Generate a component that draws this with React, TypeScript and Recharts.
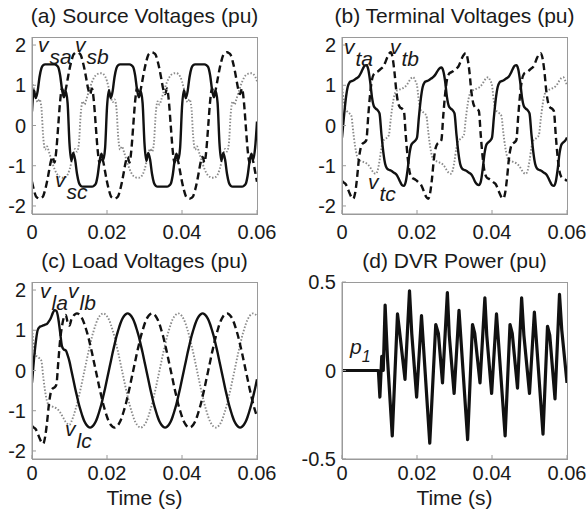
import React from "react";
import { LineChart, Line, XAxis, YAxis } from "recharts";

const FONT = "'Liberation Sans', Arial, Helvetica, sans-serif";
const INK = "#1a1a1a";
const BOX = "#9a9a9a";
const GRAY = "#8a8a8a";

// time axis in ms, 0.5 ms steps (labels are shown in seconds)
const TIME_MS = [
  0, 0.5, 1, 1.5, 2, 2.5, 3, 3.5, 4, 4.5, 5, 5.5, 6, 6.5, 7, 7.5, 8, 8.5, 9, 9.5,
  10, 10.5, 11, 11.5, 12, 12.5, 13, 13.5, 14, 14.5, 15, 15.5, 16, 16.5, 17, 17.5, 18, 18.5, 19, 19.5,
  20, 20.5, 21, 21.5, 22, 22.5, 23, 23.5, 24, 24.5, 25, 25.5, 26, 26.5, 27, 27.5, 28, 28.5, 29, 29.5,
  30, 30.5, 31, 31.5, 32, 32.5, 33, 33.5, 34, 34.5, 35, 35.5, 36, 36.5, 37, 37.5, 38, 38.5, 39, 39.5,
  40, 40.5, 41, 41.5, 42, 42.5, 43, 43.5, 44, 44.5, 45, 45.5, 46, 46.5, 47, 47.5, 48, 48.5, 49, 49.5,
  50, 50.5, 51, 51.5, 52, 52.5, 53, 53.5, 54, 54.5, 55, 55.5, 56, 56.5, 57, 57.5, 58, 58.5, 59, 59.5,
  60,
];

const X_TICKS = [0, 20, 40, 60];
const V_TICKS = [-2, -1, 0, 1, 2];
const P_TICKS = [-0.5, 0, 0.5];

// (a) source voltages
const SRC_A = [
  0.35, 0.88, 0.68, 0.85, 1.2, 1.42, 1.5, 1.52, 1.52, 1.52, 1.52, 1.52, 1.52, 1.5, 1.45, 1.25, 0.9, 0.7, 0.85, 0.55,
  -0.45, -0.88, -0.68, -0.85, -1.2, -1.42, -1.5, -1.52, -1.52, -1.52, -1.52, -1.52, -1.52, -1.5, -1.45, -1.25, -0.9, -0.7, -0.85, -0.55,
  0.45, 0.88, 0.68, 0.85, 1.2, 1.42, 1.5, 1.52, 1.52, 1.52, 1.52, 1.52, 1.52, 1.5, 1.45, 1.25, 0.9, 0.7, 0.85, 0.55,
  -0.45, -0.88, -0.68, -0.85, -1.2, -1.42, -1.5, -1.52, -1.52, -1.52, -1.52, -1.52, -1.52, -1.5, -1.45, -1.25, -0.9, -0.7, -0.85, -0.55,
  0.45, 0.88, 0.68, 0.85, 1.2, 1.42, 1.5, 1.52, 1.52, 1.52, 1.52, 1.52, 1.52, 1.5, 1.45, 1.25, 0.9, 0.7, 0.85, 0.55,
  -0.45, -0.88, -0.68, -0.85, -1.2, -1.42, -1.5, -1.52, -1.52, -1.52, -1.52, -1.52, -1.52, -1.5, -1.45, -1.25, -0.9, -0.7, -0.85, -0.55,
  0.1,
];
const SRC_B = [
  -1.4, -1.6, -1.75, -1.8, -1.82, -1.8, -1.75, -1.6, -1.4, -1.15, -0.9, -0.78, -0.92, -0.6, 0.0, 0.6, 0.92, 0.78, 0.9, 1.15,
  1.4, 1.6, 1.75, 1.8, 1.82, 1.8, 1.75, 1.6, 1.4, 1.15, 0.9, 0.78, 0.92, 0.6, 0.0, -0.6, -0.92, -0.78, -0.9, -1.15,
  -1.4, -1.6, -1.75, -1.8, -1.82, -1.8, -1.75, -1.6, -1.4, -1.15, -0.9, -0.78, -0.92, -0.6, 0.0, 0.6, 0.92, 0.78, 0.9, 1.15,
  1.4, 1.6, 1.75, 1.8, 1.82, 1.8, 1.75, 1.6, 1.4, 1.15, 0.9, 0.78, 0.92, 0.6, 0.0, -0.6, -0.92, -0.78, -0.9, -1.15,
  -1.4, -1.6, -1.75, -1.8, -1.82, -1.8, -1.75, -1.6, -1.4, -1.15, -0.9, -0.78, -0.92, -0.6, 0.0, 0.6, 0.92, 0.78, 0.9, 1.15,
  1.4, 1.6, 1.75, 1.8, 1.82, 1.8, 1.75, 1.6, 1.4, 1.15, 0.9, 0.78, 0.92, 0.6, 0.0, -0.6, -0.92, -0.78, -0.9, -1.15,
  -1.4,
];
const SRC_C = [
  1.1, 0.92, 0.72, 0.58, 0.65, 0.45, -0.3, -0.6, -0.52, -0.65, -0.8, -0.95, -1.08, -1.18, -1.25, -1.28, -1.3, -1.3, -1.28, -1.22,
  -1.1, -0.92, -0.72, -0.58, -0.65, -0.45, 0.3, 0.6, 0.52, 0.65, 0.8, 0.95, 1.08, 1.18, 1.25, 1.28, 1.3, 1.3, 1.28, 1.22,
  1.1, 0.92, 0.72, 0.58, 0.65, 0.45, -0.3, -0.6, -0.52, -0.65, -0.8, -0.95, -1.08, -1.18, -1.25, -1.28, -1.3, -1.3, -1.28, -1.22,
  -1.1, -0.92, -0.72, -0.58, -0.65, -0.45, 0.3, 0.6, 0.52, 0.65, 0.8, 0.95, 1.08, 1.18, 1.25, 1.28, 1.3, 1.3, 1.28, 1.22,
  1.1, 0.92, 0.72, 0.58, 0.65, 0.45, -0.3, -0.6, -0.52, -0.65, -0.8, -0.95, -1.08, -1.18, -1.25, -1.28, -1.3, -1.3, -1.28, -1.22,
  -1.1, -0.92, -0.72, -0.58, -0.65, -0.45, 0.3, 0.6, 0.52, 0.65, 0.8, 0.95, 1.08, 1.18, 1.25, 1.28, 1.3, 1.3, 1.28, 1.22,
  1.1,
];

// (b) terminal voltages
const TERM_A = [
  -0.3, 0.2, 0.65, 0.95, 1.07, 1.1, 1.12, 1.15, 1.18, 1.22, 1.3, 1.4, 1.48, 1.5, 1.4, 1.1, 0.7, 0.48, 0.42, 0.38,
  0.3, -0.2, -0.65, -0.95, -1.07, -1.1, -1.12, -1.15, -1.18, -1.22, -1.3, -1.4, -1.48, -1.5, -1.4, -1.1, -0.7, -0.48, -0.42, -0.38,
  -0.3, 0.2, 0.65, 0.95, 1.07, 1.1, 1.12, 1.15, 1.18, 1.22, 1.28, 1.36, 1.42, 1.44, 1.36, 1.1, 0.7, 0.48, 0.42, 0.38,
  0.3, -0.2, -0.65, -0.95, -1.07, -1.1, -1.12, -1.15, -1.18, -1.22, -1.3, -1.4, -1.46, -1.48, -1.4, -1.1, -0.7, -0.48, -0.42, -0.38,
  -0.3, 0.2, 0.65, 0.95, 1.07, 1.1, 1.12, 1.15, 1.18, 1.22, 1.3, 1.4, 1.48, 1.5, 1.4, 1.1, 0.7, 0.48, 0.42, 0.38,
  0.3, -0.2, -0.65, -0.95, -1.07, -1.1, -1.12, -1.15, -1.18, -1.22, -1.3, -1.4, -1.48, -1.5, -1.4, -1.1, -0.7, -0.48, -0.42, -0.38,
  -0.3,
];
const TERM_B = [
  -1.38, -1.42, -1.46, -1.56, -1.68, -1.78, -1.82, -1.68, -1.32, -0.84, -0.55, -0.45, -0.42, -0.36, 0.24, 0.78, 1.14, 1.28, 1.32, 1.34,
  1.38, 1.42, 1.46, 1.56, 1.68, 1.78, 1.82, 1.68, 1.32, 0.84, 0.55, 0.45, 0.42, 0.36, -0.24, -0.78, -1.14, -1.28, -1.32, -1.34,
  -1.38, -1.42, -1.46, -1.56, -1.68, -1.78, -1.82, -1.68, -1.32, -0.84, -0.55, -0.45, -0.42, -0.36, 0.24, 0.78, 1.14, 1.28, 1.32, 1.34,
  1.38, 1.42, 1.46, 1.56, 1.68, 1.76, 1.8, 1.66, 1.32, 0.84, 0.55, 0.45, 0.42, 0.36, -0.24, -0.78, -1.14, -1.28, -1.32, -1.34,
  -1.38, -1.42, -1.46, -1.56, -1.68, -1.78, -1.82, -1.68, -1.32, -0.84, -0.55, -0.45, -0.42, -0.36, 0.24, 0.78, 1.14, 1.28, 1.32, 1.34,
  1.38, 1.42, 1.46, 1.56, 1.68, 1.76, 1.8, 1.66, 1.32, 0.84, 0.55, 0.45, 0.42, 0.36, -0.24, -0.78, -1.14, -1.28, -1.32, -1.34,
  -1.38,
];
const TERM_C = [
  1.0, 0.6, 0.38, 0.34, 0.3, 0.24, -0.16, -0.52, -0.76, -0.86, -0.88, -0.9, -0.92, -0.94, -0.98, -1.04, -1.12, -1.18, -1.2, -1.12,
  -0.88, -0.56, -0.38, -0.34, -0.3, -0.24, 0.16, 0.52, 0.76, 0.86, 0.88, 0.9, 0.92, 0.94, 0.98, 1.04, 1.12, 1.18, 1.2, 1.12,
  1.0, 0.6, 0.38, 0.34, 0.3, 0.24, -0.16, -0.52, -0.76, -0.86, -0.88, -0.9, -0.92, -0.94, -0.98, -1.04, -1.12, -1.18, -1.2, -1.12,
  -0.88, -0.56, -0.38, -0.34, -0.3, -0.24, 0.16, 0.52, 0.76, 0.86, 0.88, 0.9, 0.92, 0.94, 0.98, 1.04, 1.12, 1.18, 1.2, 1.12,
  1.0, 0.6, 0.38, 0.34, 0.3, 0.24, -0.16, -0.52, -0.76, -0.86, -0.88, -0.9, -0.92, -0.94, -0.98, -1.04, -1.12, -1.18, -1.2, -1.12,
  -0.88, -0.56, -0.38, -0.34, -0.3, -0.24, 0.16, 0.52, 0.76, 0.86, 0.88, 0.9, 0.92, 0.94, 0.98, 1.04, 1.12, 1.18, 1.2, 1.12,
  1.0,
];

// (c) load voltages: distorted for the first ~10 ms, then clean sinusoids
const LOAD_A = [
  -0.3, 0.25, 0.7, 1.0, 1.08, 1.1, 1.12, 1.14, 1.16, 1.22, 1.3, 1.42, 1.5, 1.48, 1.3, 0.95, 0.6, 0.52, 0.5, 0.38,
  0.22, 0, -0.22, -0.44, -0.64, -0.84, -1.0, -1.15, -1.27, -1.35, -1.4, -1.42, -1.4, -1.35, -1.27, -1.15, -1.0, -0.84, -0.64, -0.44,
  -0.22, 0, 0.22, 0.44, 0.64, 0.84, 1.0, 1.15, 1.27, 1.35, 1.4, 1.42, 1.4, 1.35, 1.27, 1.15, 1.0, 0.84, 0.64, 0.44,
  0.22, 0, -0.22, -0.44, -0.64, -0.84, -1.0, -1.15, -1.27, -1.35, -1.4, -1.42, -1.4, -1.35, -1.27, -1.15, -1.0, -0.84, -0.64, -0.44,
  -0.22, 0, 0.22, 0.44, 0.64, 0.84, 1.0, 1.15, 1.27, 1.35, 1.4, 1.42, 1.4, 1.35, 1.27, 1.15, 1.0, 0.84, 0.64, 0.44,
  0.22, 0, -0.22, -0.44, -0.64, -0.84, -1.0, -1.15, -1.27, -1.35, -1.4, -1.42, -1.4, -1.35, -1.27, -1.15, -1.0, -0.84, -0.64, -0.44,
  -0.22,
];
const LOAD_B = [
  -1.38, -1.42, -1.46, -1.56, -1.68, -1.78, -1.82, -1.65, -1.3, -0.85, -0.55, -0.45, -0.42, -0.35, 0.2, 0.75, 1.1, 1.32, 1.38, 1.2,
  1.12, 1.27, 1.35, 1.4, 1.42, 1.4, 1.35, 1.27, 1.15, 1.0, 0.84, 0.64, 0.44,
  0.22, 0, -0.22, -0.44, -0.64, -0.84, -1.0, -1.15, -1.27, -1.35, -1.4, -1.42, -1.4, -1.35, -1.27, -1.15, -1.0, -0.84, -0.64, -0.44,
  -0.22, 0, 0.22, 0.44, 0.64, 0.84, 1.0, 1.15, 1.27, 1.35, 1.4, 1.42, 1.4, 1.35, 1.27, 1.15, 1.0, 0.84, 0.64, 0.44,
  0.22, 0, -0.22, -0.44, -0.64, -0.84, -1.0, -1.15, -1.27, -1.35, -1.4, -1.42, -1.4, -1.35, -1.27, -1.15, -1.0, -0.84, -0.64, -0.44,
  -0.22, 0, 0.22, 0.44, 0.64, 0.84, 1.0, 1.15, 1.27, 1.35, 1.4, 1.42, 1.4, 1.35, 1.27, 1.15, 1.0, 0.84, 0.64, 0.44,
  0.22, 0, -0.22, -0.44, -0.64, -0.84, -1.0, -1.15,
];
const LOAD_C = [
  1.1, 0.6, 0.38, 0.34, 0.3, 0.24, -0.16, -0.52, -0.76, -0.86, -0.88, -0.9, -0.92, -0.94, -0.98, -1.04, -1.12, -1.2, -1.28, -1.33,
  -1.35, -1.27, -1.15, -1.0, -0.84, -0.64, -0.44, -0.22, 0, 0.22, 0.44, 0.64, 0.84, 1.0, 1.15, 1.27, 1.35, 1.4, 1.42, 1.4,
  1.35, 1.27, 1.15, 1.0, 0.84, 0.64, 0.44,
  0.22, 0, -0.22, -0.44, -0.64, -0.84, -1.0, -1.15, -1.27, -1.35, -1.4, -1.42, -1.4, -1.35, -1.27, -1.15, -1.0, -0.84, -0.64, -0.44,
  -0.22, 0, 0.22, 0.44, 0.64, 0.84, 1.0, 1.15, 1.27, 1.35, 1.4, 1.42, 1.4, 1.35, 1.27, 1.15, 1.0, 0.84, 0.64, 0.44,
  0.22, 0, -0.22, -0.44, -0.64, -0.84, -1.0, -1.15, -1.27, -1.35, -1.4, -1.42, -1.4, -1.35, -1.27, -1.15, -1.0, -0.84, -0.64, -0.44,
  -0.22, 0, 0.22, 0.44, 0.64, 0.84, 1.0, 1.15, 1.27, 1.35, 1.4, 1.42, 1.4, 1.35,
];

// (d) DVR power, sampled at its turning points (ms, pu)
const POWER_T = [
  0, 9.7, 10.1, 10.6, 11.0, 11.5, 12.1, 13.4, 14.8, 15.3, 16.8, 18.0, 18.6, 19.9, 21.2, 23.4,
  25.0, 25.7, 26.8, 28.1, 28.6, 29.9, 31.2, 33.5, 34.8, 35.4, 36.8, 38.1, 38.6, 39.9, 41.2, 43.5,
  44.8, 45.4, 46.8, 47.9, 48.5, 50.0, 51.3, 53.6, 54.8, 55.4, 56.8, 58.0, 58.6, 60,
];
const POWER_P = [
  0, 0, -0.15, 0.08, 0.0, 0.37, 0.08, -0.37, 0.32, 0.23, -0.05, 0.45, 0.21, -0.15, 0.31, -0.41,
  0.26, 0.21, -0.07, 0.44, 0.2, -0.13, 0.34, -0.39, 0.26, 0.21, -0.07, 0.41, 0.2, -0.13, 0.32, -0.37,
  0.26, 0.21, -0.1, 0.41, 0.2, -0.13, 0.33, -0.36, 0.25, 0.2, -0.16, 0.43, 0.23, -0.07,
];

const srcRows = TIME_MS.map((t, i) => ({ t, a: SRC_A[i], b: SRC_B[i], c: SRC_C[i] }));
const termRows = TIME_MS.map((t, i) => ({ t, a: TERM_A[i], b: TERM_B[i], c: TERM_C[i] }));
const loadRows = TIME_MS.map((t, i) => ({ t, a: LOAD_A[i], b: LOAD_B[i], c: LOAD_C[i] }));
const powerRows = POWER_T.map((t, i) => ({ t, p: POWER_P[i] }));

const fmtSec = (v: number) => String(Math.round(v) / 1000);

type Trace = { key: string; kind: "solid" | "dash" | "dot" };
const PHASES: Trace[] = [
  { key: "c", kind: "dot" },
  { key: "b", kind: "dash" },
  { key: "a", kind: "solid" },
];
const POWER_TRACE: Trace[] = [{ key: "p", kind: "solid" }];

const tickStyle = { fill: INK, fontSize: 20, fontFamily: FONT };

function Panel({
  x,
  y,
  w,
  h,
  top,
  right,
  bottom,
  yWidth,
  xGap,
  data,
  traces,
  yDomain,
  yTicks,
  curve,
  width,
}: {
  x: number;
  y: number;
  w: number;
  h: number;
  top: number;
  right: number;
  bottom: number;
  yWidth: number;
  xGap: number;
  data: any[];
  traces: Trace[];
  yDomain: [number, number];
  yTicks: number[];
  curve: "monotone" | "linear";
  width: number;
}) {
  return (
    <div style={{ position: "absolute", left: x, top: y }}>
      <LineChart width={w} height={h} data={data} margin={{ top, right, bottom, left: 0 }}>
        <XAxis
          xAxisId="bottom"
          dataKey="t"
          type="number"
          domain={[0, 60]}
          ticks={X_TICKS}
          interval={0}
          allowDataOverflow
          tickFormatter={fmtSec}
          height={30}
          stroke={BOX}
          tickSize={-4}
          tickMargin={xGap}
          tick={tickStyle}
        />
        <XAxis
          xAxisId="top"
          orientation="top"
          dataKey="t"
          type="number"
          domain={[0, 60]}
          ticks={X_TICKS}
          interval={0}
          allowDataOverflow
          height={0}
          stroke={BOX}
          tickSize={-4}
          tick={false}
        />
        <YAxis
          yAxisId="left"
          type="number"
          domain={yDomain}
          ticks={yTicks}
          interval={0}
          allowDataOverflow
          width={yWidth}
          stroke={BOX}
          tickSize={-4}
          tickMargin={10}
          tick={tickStyle}
        />
        <YAxis
          yAxisId="right"
          orientation="right"
          type="number"
          domain={yDomain}
          ticks={yTicks}
          interval={0}
          allowDataOverflow
          width={0}
          stroke={BOX}
          tickSize={-4}
          tick={false}
        />
        {traces.map((tr) => (
          <Line
            key={tr.key}
            xAxisId="bottom"
            yAxisId="left"
            dataKey={tr.key}
            type={curve}
            stroke={tr.kind === "dot" ? GRAY : "#111"}
            strokeWidth={tr.kind === "dot" ? 1.9 : width}
            strokeDasharray={tr.kind === "dash" ? "7 4" : tr.kind === "dot" ? "1.5 1.8" : undefined}
            strokeLinejoin="round"
            dot={false}
            activeDot={false}
            isAnimationActive={false}
          />
        ))}
      </LineChart>
    </div>
  );
}

const TITLES = [
  { text: "(a) Source Voltages (pu)", x: 144.5, y: 23 },
  { text: "(b) Terminal Voltages (pu)", x: 454.5, y: 23 },
  { text: "(c) Load Voltages (pu)", x: 144.5, y: 268 },
  { text: "(d) DVR Power (pu)", x: 454.5, y: 268 },
  { text: "Time (s)", x: 144.5, y: 505 },
  { text: "Time (s)", x: 454.5, y: 505 },
];

// plot frames (the box around each axes area)
const FRAMES = [
  { x: 32, y: 37, w: 225, h: 177 },
  { x: 342, y: 37, w: 225, h: 177 },
  { x: 32, y: 282, w: 225, h: 177 },
  { x: 342, y: 282, w: 225, h: 177 },
];

const TRACE_LABELS = [
  { main: "v", sub: "sa", x: 38, y: 52 },
  { main: "v", sub: "sb", x: 75, y: 52 },
  { main: "v", sub: "sc", x: 55, y: 187 },
  { main: "v", sub: "ta", x: 344, y: 54 },
  { main: "v", sub: "tb", x: 390, y: 54 },
  { main: "v", sub: "tc", x: 368, y: 189 },
  { main: "v", sub: "la", x: 40, y: 298 },
  { main: "v", sub: "lb", x: 68, y: 298 },
  { main: "v", sub: "lc", x: 65, y: 436 },
];

export default function App() {
  return (
    <div
      style={{
        position: "absolute",
        left: 0,
        top: 0,
        width: 587,
        height: 512,
        background: "#fff",
        overflow: "hidden",
      }}
    >
      <Panel x={0} y={0} w={290} h={250} top={37} right={33} bottom={6} yWidth={32} xGap={15}
        data={srcRows} traces={PHASES} yDomain={[-2.2, 2.2]} yTicks={V_TICKS} curve="monotone" width={2.4} />
      <Panel x={293} y={0} w={294} h={250} top={37} right={20} bottom={6} yWidth={49} xGap={15}
        data={termRows} traces={PHASES} yDomain={[-2.2, 2.2]} yTicks={V_TICKS} curve="monotone" width={2.4} />
      <Panel x={0} y={250} w={290} h={262} top={32} right={33} bottom={23} yWidth={32} xGap={11}
        data={loadRows} traces={PHASES} yDomain={[-2.2, 2.2]} yTicks={V_TICKS} curve="monotone" width={2.4} />
      <Panel x={293} y={250} w={294} h={262} top={32} right={20} bottom={23} yWidth={49} xGap={11}
        data={powerRows} traces={POWER_TRACE} yDomain={[-0.5, 0.5]} yTicks={P_TICKS} curve="linear" width={3.2} />

      <svg width={587} height={512} style={{ position: "absolute", left: 0, top: 0, pointerEvents: "none" }}>
        {FRAMES.map((f, i) => (
          <rect key={i} x={f.x + 0.5} y={f.y + 0.5} width={f.w} height={f.h} fill="none" stroke={BOX} strokeWidth={1} />
        ))}
        {TITLES.map((t, i) => (
          <text key={i} x={t.x} y={t.y} textAnchor="middle" fontFamily={FONT} fontSize={21} fill={INK}>
            {t.text}
          </text>
        ))}
        {TRACE_LABELS.map((l, i) => (
          <text key={i} x={l.x} y={l.y} fontFamily={FONT} fontSize={21} fontStyle="italic" fill={INK}>
            <tspan>{l.main}</tspan>
            <tspan dx={1} dy={12}>{l.sub}</tspan>
          </text>
        ))}
        <text x={350} y={354} fontFamily={FONT} fontSize={21} fontStyle="italic" fill={INK}>
          <tspan>p</tspan>
          <tspan dx={0} dy={8} fontSize={16}>1</tspan>
        </text>
      </svg>
    </div>
  );
}
